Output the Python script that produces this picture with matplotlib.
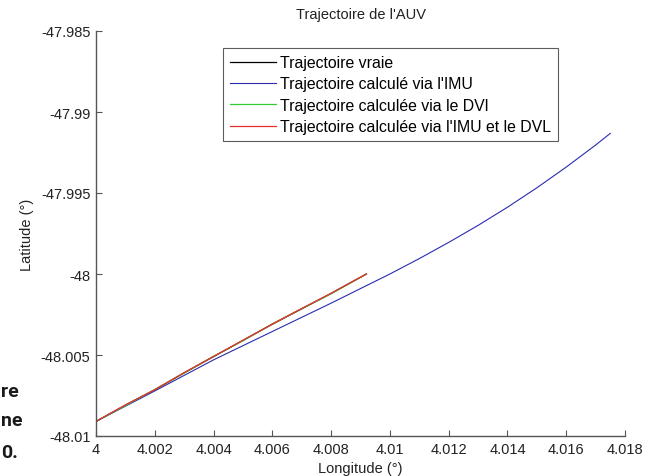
import numpy as np
import matplotlib
matplotlib.use('Agg')
import matplotlib.pyplot as plt
from matplotlib.ticker import FuncFormatter

plt.rcParams['font.family'] = ['Liberation Sans', 'DejaVu Sans']

# trajectoire vraie / DVL / IMU+DVL (quasi confondues)
true_lon = [4.000, 4.001, 4.002, 4.003, 4.004, 4.005, 4.006, 4.007, 4.008, 4.0092]
true_lat = [-48.0091, -48.0081, -48.00715, -48.0061, -48.0051, -48.0041, -48.0031, -48.00215, -48.0012, -48.0000]
dvl_lat = [-48.0091, -48.00812, -48.00713, -48.00612, -48.00508, -48.00412, -48.00308, -48.00214, -48.00122, -48.0000]
fused_lat = [-48.0091, -48.00808, -48.00714, -48.00609, -48.00509, -48.00409, -48.00309, -48.00213, -48.00119, -48.0000]

# trajectoire IMU seule (dérive)
imu_lon = [4.000, 4.002, 4.004, 4.006, 4.008, 4.010, 4.011, 4.012, 4.013, 4.014, 4.015, 4.016, 4.017, 4.0175]
imu_lat = [-48.0091, -48.00722, -48.0053, -48.00355, -48.0018, -48.0000, -47.99905, -47.99805, -47.99700,
           -47.99588, -47.99468, -47.99340, -47.99204, -47.99132]

xticks = [4.000, 4.002, 4.004, 4.006, 4.008, 4.010, 4.012, 4.014, 4.016, 4.018]
yticks = [-48.010, -48.005, -48.000, -47.995, -47.990, -47.985]

labels = ["Trajectoire vraie", "Trajectoire calculé via l'IMU",
          "Trajectoire calculée via le DVl", "Trajectoire calculée via l'IMU et le DVL"]

fig = plt.figure(figsize=(6.57, 4.77), dpi=100)
ax = fig.add_axes([96 / 657, 40 / 477, 529 / 657, 405 / 477])

ax.plot(true_lon, true_lat, color='black', lw=0.9, label=labels[0])
ax.plot(imu_lon, imu_lat, color='#2b2bb0', lw=0.8, label=labels[1])
ax.plot(true_lon, dvl_lat, color='#33cc33', lw=0.9, label=labels[2])
ax.plot(true_lon, fused_lat, color='#e83030', lw=0.9, label=labels[3])

ax.set_xlim(4.0, 4.018)
ax.set_ylim(-48.01, -47.985)
ax.set_xticks(xticks)
ax.set_yticks(yticks)
fmt = FuncFormatter(lambda v, p: f"{round(v, 6):g}")
ax.xaxis.set_major_formatter(fmt)
ax.yaxis.set_major_formatter(fmt)

for s in ['top', 'right']:
    ax.spines[s].set_visible(False)
for s in ['left', 'bottom']:
    ax.spines[s].set_color('#555555')
    ax.spines[s].set_linewidth(1.0)
ax.tick_params(direction='in', length=4, width=0.8, color='#555555', labelsize=10.5,
               labelcolor='#222222', pad=4)

ax.set_title("Trajectoire de l'AUV", fontsize=10.5, color='#222222', pad=9)
ax.set_xlabel("Longitude (°)", fontsize=10.5, color='#222222', labelpad=4)
ax.set_ylabel("Latitude (°)", fontsize=10.5, color='#222222', labelpad=5)

leg = ax.legend(loc='upper left', bbox_to_anchor=((223 - 96) / 529, 1 - (49 - 32) / 405), fontsize=11.4,
                frameon=True, fancybox=False, edgecolor='#333333', borderpad=0.45,
                labelspacing=0.4, handlelength=2.9, handletextpad=0.25, borderaxespad=0)
leg.get_frame().set_linewidth(0.8)

# morceau de texte de la page recadrée
for t, y in [("re", 397), ("ne", 426), ("0.", 458)]:
    fig.text(1.5 / 657, 1 - y / 477, t, ha='left', va='baseline', fontsize=14,
             fontweight='bold', family=['Roboto', 'DejaVu Sans'], color='#1a1a1a')

fig.savefig('out.png', dpi=100)
